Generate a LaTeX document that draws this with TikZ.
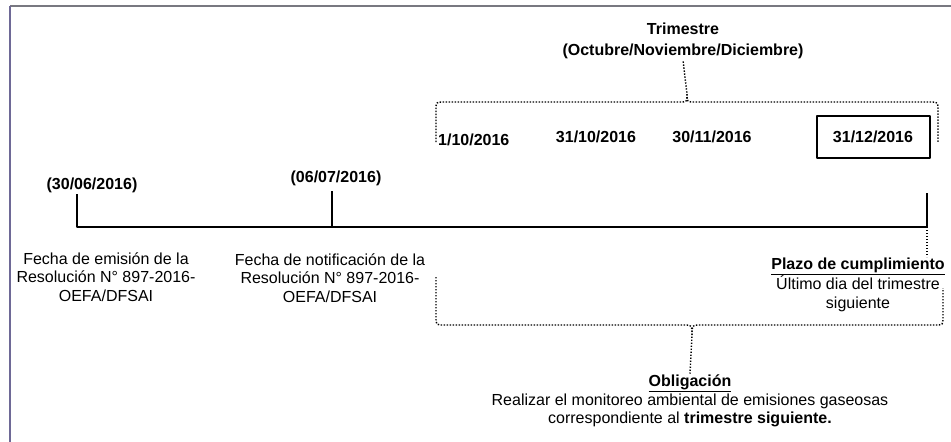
\documentclass[tikz,border=0pt]{standalone}
\usepackage{fontspec}
\setmainfont{Liberation Sans}
\usetikzlibrary{positioning,calc}
\definecolor{framegray}{RGB}{120,120,128}
\definecolor{framepurple}{RGB}{110,105,150}

\begin{document}
\begin{tikzpicture}[x=1pt, y=-1pt, line join=round,
  axis line/.style={line width=2.4pt},
  dot line/.style={line width=1.4pt, dash pattern=on 1.4pt off 1.6pt},
  date node/.style={font=\fontsize{16}{21}\bfseries\selectfont, inner sep=1pt},
  note node/.style={align=center, font=\fontsize{16}{18.5}\selectfont, inner sep=1pt}]
\useasboundingbox (0,0) rectangle (951,442);
\draw[line width=1.6pt, framegray] (10,6) -- (951,6);
\draw[line width=1.2pt, framepurple] (10,442) -- (10,6);

% fechas de la linea de tiempo
\node[date node] (d1) at (92,185) {(30/06/2016)};
\node[date node] (d2) at (336,178) {(06/07/2016)};
\coordinate (t1) at (77,227);
\coordinate (t2) at (332,227);
\coordinate (t3) at (927,227);
\coordinate (t1top) at (77,194);
\coordinate (t2top) at (332,191);
\coordinate (t3top) at (927,193);

% trimestre
\node[date node, align=center] (trim) at (683,41) {Trimestre\\(Octubre/Noviembre/Diciembre)};
\node[date node, anchor=west] (q1) at (437,140) {1/10/2016};
\node[date node] (q2) at (596,137) {31/10/2016};
\node[date node] (q3) at (712,137) {30/11/2016};
\node[date node, draw, line width=2pt, minimum width=113pt, minimum height=42pt] (q4) at (873,137) {31/12/2016};

% textos inferiores
\node[note node] (n1) at (106,277) {Fecha de emisión de la\\Resolución N° 897-2016-\\OEFA/DFSAI};
\node[note node] (n2) at (330,278) {Fecha de notificación de la\\Resolución N° 897-2016-\\OEFA/DFSAI};
\node[note node, anchor=north] (plazo) at (858,257) {\textbf{\underline{Plazo de cumplimiento}}\\Último dia del trimestre\\siguiente};
\node[note node] (obl) at (690,401) {\textbf{\underline{Obligación}}\\Realizar el monitoreo ambiental de emisiones gaseosas\\correspondiente al \textbf{trimestre siguiente.}};

% linea de tiempo
\draw[axis line] (t1top) -- (t1) -- (t3) -- (t3top);
\draw[axis line] (t2top) -- (t2);

% llaves punteadas
\draw[dot line] (436,142) -- (436,110) .. controls (436,102) .. (444,102) -- (679,102)
  .. controls (687,102) .. (687,94) -- (trim.south);
\draw[dot line] (687,94) .. controls (687,102) .. (695,102) -- (930,102)
  .. controls (938,102) .. (938,110) -- (938,142);
\draw[dot line] (t3) -- (t3 |- plazo.north);
\draw[dot line] (436,277) -- (436,317) .. controls (436,325) .. (444,325) -- (684,325)
  .. controls (692,325) .. (692,335) -- (obl.north);
\draw[dot line] (692,335) .. controls (692,325) .. (700,325) -- (935,325)
  .. controls (943,325) .. (943,317) -- (943,288);
\end{tikzpicture}
\end{document}
